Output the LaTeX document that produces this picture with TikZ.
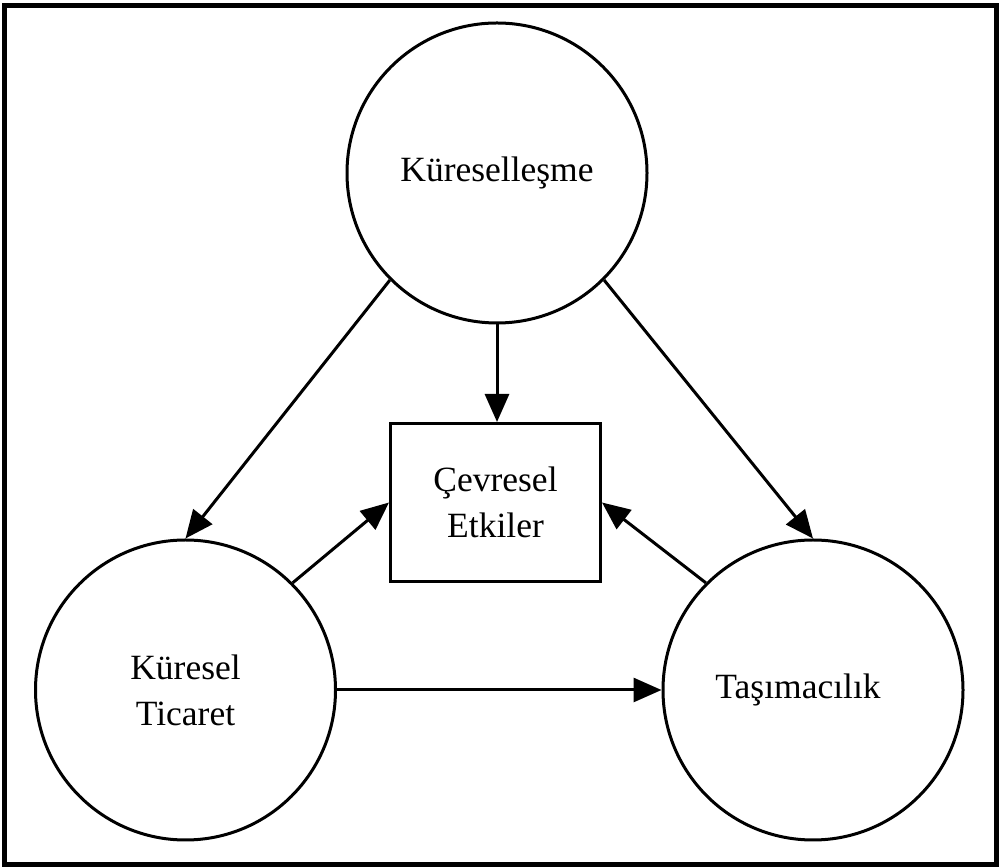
\documentclass[tikz,border=0pt]{standalone}
\usepackage{fontspec}
\setmainfont{Liberation Serif}
\usepackage{tikz}
\usetikzlibrary{shapes,arrows.meta,positioning,calc}

\begin{document}
\begin{tikzpicture}[
            x=1pt, y=1pt,
            bubble/.style={circle, draw, line width=3pt, minimum size=300pt, inner sep=0pt, align=center},
            block/.style={rectangle, draw, line width=3pt, minimum width=210pt, minimum height=158pt, align=center},
            arrow/.style={-{Triangle[length=28pt, width=24pt]}, line width=3pt},
            every node/.style={font=\fontsize{35.5}{46}\selectfont}
        ]
            % Frame
            \useasboundingbox (0,0) rectangle (999,867);
            \draw[line width=5pt] (4.5,2) rectangle (996,861.5);

            % Nodes
            \node[bubble] (kure) at (497,694) {Küreselleşme};
            \node[block] (cevre) at (495.5,364.5) {Çevresel\\Etkiler};
            \node[bubble] (ticaret) at (185.5,177) {Küresel\\Ticaret};
            \node[bubble] (tasima) at (813,177) {\hspace*{-30pt}Taşımacılık};

            % Arrows
            \draw[arrow] (kure.south) -- (kure.south |- cevre.north);
            \draw[arrow] (kure.south west) -- (ticaret.north);
            \draw[arrow] (kure.south east) -- (tasima.north);
            \draw[arrow] (ticaret.north east) -- (cevre.west);
            \draw[arrow] (tasima.north west) -- (cevre.east);
            \draw[arrow] (ticaret.east) -- (tasima.west);
        \end{tikzpicture}
\end{document}
